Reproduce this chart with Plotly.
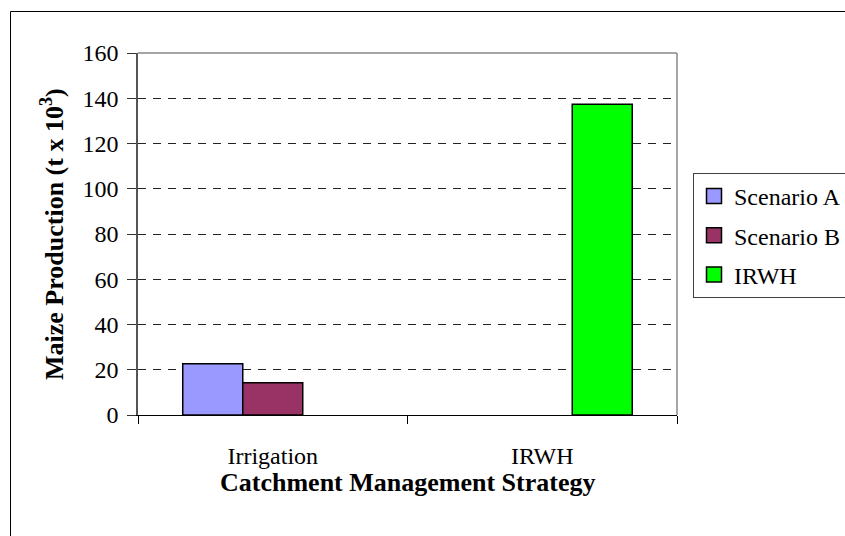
import plotly.graph_objects as go

categories = ["Irrigation", "IRWH"]
scenario_a = [22.7, None]
scenario_b = [14.3, None]
irwh = [None, 137.3]
y_ticks = [0, 20, 40, 60, 80, 100, 120, 140, 160]

FONT = "Liberation Serif, Times New Roman, serif"

fig = go.Figure()
series = [("Scenario A", scenario_a, "#9999FF"),
          ("Scenario B", scenario_b, "#993366"),
          ("IRWH", irwh, "#00FF00")]
for name, vals, col in series:
    fig.add_trace(go.Bar(
        x=categories, y=vals, name=name, legendgroup=name, showlegend=False,
        marker=dict(color=col, line=dict(color="black", width=1.5)),
    ))
# legend-only entries with larger square swatches
for name, vals, col in series:
    fig.add_trace(go.Scatter(
        x=[None], y=[None], mode="markers", name=name, legendgroup=name,
        marker=dict(symbol="square", size=15, color=col, line=dict(color="black", width=1.5)),
        hoverinfo="skip",
    ))

W, H = 845, 536
pw, ph = 539, 362
L, T = 138, 53
R, B = W - L - pw, H - T - ph

def px_x(p):
    return (p - L) / pw

def px_y(p):
    return (T + ph - p) / ph

fig.update_layout(
    width=W, height=H,
    margin=dict(l=L, r=R, t=T, b=B, pad=0, autoexpand=False),
    paper_bgcolor="white", plot_bgcolor="white",
    barmode="group", bargap=0.332, bargroupgap=0,
    font=dict(family=FONT, size=24, color="black"),
    showlegend=True,
    legend=dict(
        x=px_x(693), y=px_y(173), xanchor="left", yanchor="top",
        bordercolor="#404040", borderwidth=1, bgcolor="white",
        font=dict(family=FONT, size=24, color="black"),
        tracegroupgap=5, traceorder="grouped", itemsizing="trace",
    ),
    xaxis=dict(
        type="category", tickson="boundaries",
        showline=True, linecolor="black", linewidth=1,
        ticks="outside", ticklen=8, tickcolor="black", tickwidth=1,
        showgrid=False, ticklabelstandoff=19,
        tickfont=dict(family=FONT, size=24, color="black"),
    ),
    yaxis=dict(
        range=[0, 160], tickvals=y_ticks,
        showline=True, linecolor="#555555", linewidth=1.5,
        ticks="outside", ticklen=9, tickcolor="#333333", tickwidth=1,
        showgrid=True, gridcolor="#222222", gridwidth=1, griddash="8px,7px",
        zeroline=False, ticklabelstandoff=4,
        tickfont=dict(family=FONT, size=24, color="black"),
    ),
    annotations=[
        dict(text="Catchment Management Strategy", xref="paper", yref="paper",
             x=0.5, y=px_y(482), xanchor="center", yanchor="middle",
             showarrow=False, font=dict(family=FONT, size=26, color="black", weight="bold")),
        dict(text="Maize Production (t x 10<sup>3</sup>)", xref="paper", yref="paper",
             x=px_x(52), y=px_y(234), xanchor="center", yanchor="middle", textangle=-90,
             showarrow=False, font=dict(family=FONT, size=26, color="black", weight="bold")),
    ],
    shapes=[
        dict(type="line", xref="paper", yref="paper", x0=0, x1=1, y0=1, y1=1,
             line=dict(color="#888888", width=1.5)),
        dict(type="line", xref="paper", yref="paper", x0=1, x1=1, y0=0, y1=1,
             line=dict(color="#888888", width=1.5)),
        dict(type="line", xref="paper", yref="paper", x0=px_x(10.5), x1=px_x(10.5),
             y0=px_y(11.5), y1=px_y(600), line=dict(color="black", width=1)),
        dict(type="line", xref="paper", yref="paper", x0=px_x(10.5), x1=px_x(900),
             y0=px_y(11.5), y1=px_y(11.5), line=dict(color="black", width=1)),
    ],
)

fig.write_html(
    "out.html",
    config={"displayModeBar": False},
    post_script="document.body.style.margin='0px'; document.body.style.overflow='hidden';",
)
